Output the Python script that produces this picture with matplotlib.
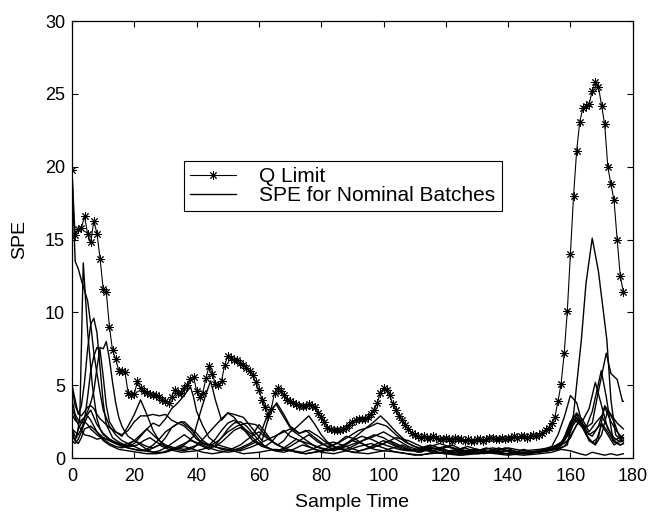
import numpy as np
import matplotlib
matplotlib.use("Agg")
import matplotlib.pyplot as plt

plt.rcParams['font.family'] = ['Liberation Sans', 'DejaVu Sans']

# === 1. Q limit (one value per sample, 0..177) ===
q_limit = [19.8, 15.3, 15.7, 15.8, 16.6, 15.4, 14.8, 16.3, 15.4, 13.7,
           11.6, 11.4, 9.0, 7.4, 6.8, 6.0, 6.0, 5.9, 4.5, 4.3,
           4.4, 5.3, 4.8, 4.6, 4.5, 4.4, 4.3, 4.3, 4.2, 4.0,
           3.9, 3.8, 4.2, 4.7, 4.5, 4.5, 4.8, 5.0, 5.4, 5.6,
           4.6, 4.2, 4.5, 5.5, 6.3, 5.8, 5.1, 5.0, 5.3, 6.4,
           7.0, 6.9, 6.7, 6.7, 6.5, 6.4, 6.2, 6.0, 5.7, 5.2,
           4.7, 4.0, 3.5, 2.9, 3.4, 4.5, 4.8, 4.6, 4.3, 4.0,
           3.9, 3.8, 3.7, 3.6, 3.6, 3.6, 3.7, 3.6, 3.5, 3.1,
           2.8, 2.5, 2.1, 2.0, 1.9, 1.9, 1.9, 2.0, 2.1, 2.3,
           2.5, 2.6, 2.7, 2.7, 2.7, 2.8, 3.0, 3.3, 3.8, 4.5,
           4.8, 4.7, 4.3, 3.7, 3.3, 2.9, 2.6, 2.3, 2.0, 1.7,
           1.6, 1.5, 1.4, 1.5, 1.4, 1.4, 1.5, 1.4, 1.3, 1.3,
           1.4, 1.3, 1.2, 1.4, 1.3, 1.3, 1.2, 1.3, 1.2, 1.2,
           1.3, 1.3, 1.2, 1.3, 1.4, 1.4, 1.3, 1.3, 1.4, 1.3,
           1.4, 1.4, 1.5, 1.4, 1.5, 1.5, 1.4, 1.5, 1.6, 1.5,
           1.6, 1.7, 1.9, 2.1, 2.4, 2.8, 3.9, 5.1, 7.2, 10.1,
           14.0, 18.0, 21.1, 23.1, 24.0, 24.2, 24.3, 25.2, 25.8, 25.5,
           24.2, 22.9, 20.0, 18.8, 17.7, 15.0, 12.5, 11.4]
q_time = np.arange(len(q_limit))

spe1_t = [0, 1, 2, 3, 4, 5, 6, 7, 8, 9, 10, 12, 14, 16, 18, 20, 22, 24, 26, 28, 31, 35, 40, 45, 50, 55, 60, 65, 70,
          75, 80, 85, 90, 95, 100, 105, 110, 115, 120, 125, 130, 135, 140, 145, 150, 154, 157, 160, 163, 165, 167,
          169, 171, 173, 175, 177]
spe1_v = [19.5, 13.5, 13.0, 12.2, 11.5, 10.8, 9.2, 7.2, 5.8, 4.5, 3.3, 2.2, 1.6, 1.2, 1.0, 0.8, 0.6, 0.5, 0.7, 0.9,
          0.6, 0.4, 0.5, 0.8, 0.6, 0.3, 0.4, 0.6, 0.5, 0.3, 0.5, 0.7, 0.4, 0.3, 0.5, 0.4, 0.2, 0.3, 0.4, 0.2, 0.3,
          0.4, 0.3, 0.2, 0.3, 0.4, 0.6, 0.5, 0.3, 0.2, 0.4, 0.3, 0.2, 0.3, 0.2, 0.3]

spe2_t = [0, 1, 1.5, 2.5, 3.6, 5, 6.5, 8, 9, 10, 12, 14, 16, 18, 20, 22, 24, 26, 28, 30, 32, 34, 36, 38, 39, 40, 42,
          44, 47, 50, 54, 58, 62, 66, 70, 74, 78, 82, 86, 90, 94, 97, 99, 101, 104, 108, 112, 116, 120, 125, 130,
          135, 140, 145, 150, 154, 157, 160, 162, 164, 166, 168, 170, 172, 174, 176, 177]
spe2_v = [2.0, 1.5, 1.4, 2.8, 13.4, 8.7, 5.0, 2.7, 2.0, 1.6, 1.3, 1.1, 0.9, 0.8, 1.0, 1.5, 2.0, 2.4, 2.2, 2.7, 3.4,
          3.8, 4.3, 4.9, 4.2, 3.2, 2.2, 1.4, 0.9, 0.7, 0.5, 0.8, 1.2, 1.6, 2.0, 1.4, 0.8, 0.5, 0.7, 1.3, 2.0, 2.5,
          2.9, 2.5, 1.8, 1.0, 0.6, 0.4, 0.3, 0.5, 0.6, 0.4, 0.5, 0.3, 0.4, 0.6, 0.9, 1.8, 3.0, 2.3, 1.2, 0.9, 1.6,
          3.3, 2.5, 1.3, 1.1]

spe3_t = [0, 1, 2, 3, 4, 5, 6, 7, 8, 9, 10, 11, 13, 15, 17, 19, 21, 23, 25, 27, 30, 33, 36, 39, 41, 43, 44.5, 46,
          48, 50, 52, 55, 58, 61, 64, 67, 70, 73, 76, 80, 84, 88, 92, 96, 100, 104, 108, 112, 116, 120, 125, 130,
          135, 140, 145, 150, 154, 156, 158, 160, 162, 164, 166, 168, 170, 172, 174, 176, 177]
spe3_v = [5.0, 4.0, 3.0, 3.6, 5.2, 7.5, 9.2, 9.6, 8.6, 6.2, 3.8, 2.3, 1.4, 1.1, 0.9, 0.8, 0.9, 1.2, 1.4, 1.1, 0.8,
          0.6, 0.9, 1.5, 3.0, 4.4, 5.3, 4.0, 2.6, 3.1, 2.8, 2.0, 1.2, 0.8, 0.6, 0.5, 0.8, 1.2, 1.0, 0.7, 0.5, 0.8,
          1.1, 1.4, 1.8, 1.3, 0.8, 0.5, 0.7, 0.5, 0.3, 0.5, 0.7, 0.5, 0.4, 0.5, 0.8, 1.6, 2.8, 4.3, 3.8, 2.2, 1.2,
          1.0, 2.3, 1.6, 0.9, 1.2, 1.4]

spe4_t = [0, 1, 2, 3, 4, 5, 6, 7, 8, 9, 10, 11, 12, 13, 14, 15, 16, 17, 18, 20, 22, 24, 26, 28, 30, 32, 35, 38, 41,
          44, 47, 50, 53, 56, 59, 62, 65, 68, 71, 74, 77, 80, 84, 88, 92, 96, 100, 104, 108, 112, 116, 120, 125,
          130, 135, 140, 145, 150, 153, 156, 159, 161, 163, 165, 167, 169, 171.5, 173, 175, 176.7, 177]
spe4_v = [3.0, 2.6, 2.4, 2.6, 2.8, 3.2, 3.8, 4.6, 6.2, 7.6, 7.5, 8.0, 6.8, 5.2, 3.8, 2.8, 2.2, 1.8, 1.5, 1.2, 1.0,
          0.8, 0.7, 0.9, 1.4, 2.1, 2.5, 2.0, 1.2, 0.8, 1.2, 1.8, 2.2, 2.4, 2.3, 1.6, 1.0, 0.7, 0.5, 0.4, 0.6, 0.9,
          1.1, 0.8, 0.5, 0.7, 1.0, 1.4, 1.2, 0.8, 0.5, 0.3, 0.4, 0.6, 0.4, 0.3, 0.4, 0.4, 0.5, 0.7, 1.2, 1.9, 2.6,
          2.1, 2.4, 4.6, 7.2, 5.8, 5.4, 3.9, 3.9]

spe5_t = [0, 1, 2, 3, 4, 5, 6, 7, 8, 9, 10, 11, 12, 14, 16, 18, 20, 22, 24, 26, 28, 30, 33, 36, 39, 42, 45, 48, 51,
          54, 57, 60, 63, 65.5, 68, 70, 73, 75, 78, 81, 84, 87, 90, 93, 96, 99, 102, 105, 108, 111, 115, 120, 125,
          130, 135, 140, 145, 150, 153, 156, 158, 160, 162, 164, 165, 167, 169.9, 171.5, 173.7, 175, 176.4, 177]
spe5_v = [2.0, 1.8, 1.6, 2.0, 2.6, 4.2, 6.0, 7.0, 7.6, 7.4, 5.6, 3.6, 2.5, 1.8, 1.5, 2.2, 3.0, 4.0, 3.0, 1.9, 1.2,
          0.9, 0.7, 0.6, 0.8, 1.0, 0.9, 0.6, 0.5, 0.7, 1.0, 1.4, 3.1, 3.7, 2.8, 2.1, 1.7, 1.9, 1.4, 0.9, 0.6, 0.8,
          1.2, 1.0, 0.7, 0.9, 1.2, 0.9, 0.6, 0.4, 0.6, 0.8, 0.5, 0.3, 0.5, 0.7, 0.5, 0.6, 0.7, 0.9, 1.2, 2.0, 2.6,
          2.3, 2.1, 3.2, 6.0, 4.2, 1.2, 1.3, 1.5, 1.4]

spe6_t = [0, 1, 2, 3, 4, 5, 6, 7, 8, 9, 10, 12, 14, 16, 18, 20, 22, 24, 26, 28, 30, 32, 34, 36, 38, 40, 42, 44, 46,
          48, 50, 52, 54, 56, 58, 60, 62, 64, 66, 68, 70, 73, 76, 79, 82, 85, 88, 91, 94, 97, 100, 103, 106, 109,
          112, 115, 118, 121, 124, 127, 130, 134, 138, 142, 146, 150, 154, 157, 159, 161, 163, 165, 167, 169, 171,
          173, 175, 177]
spe6_v = [4.8, 3.6, 3.1, 2.9, 3.2, 3.5, 3.6, 3.4, 3.0, 2.7, 2.5, 2.1, 1.8, 1.6, 1.9, 2.5, 2.9, 2.9, 3.0, 2.9, 3.0,
          2.6, 2.4, 2.5, 2.1, 1.7, 1.2, 0.9, 0.8, 1.1, 1.5, 1.9, 2.1, 1.8, 1.4, 1.0, 0.8, 1.1, 1.6, 1.9, 1.5, 1.2,
          1.6, 1.1, 0.8, 1.0, 1.5, 1.3, 0.9, 0.6, 0.5, 0.7, 0.9, 0.6, 0.4, 0.7, 0.6, 0.8, 0.5, 0.3, 0.5, 0.4, 0.6,
          0.4, 0.3, 0.5, 0.7, 1.1, 1.6, 2.7, 2.3, 1.8, 1.5, 2.2, 3.5, 2.5, 1.8, 1.3]

spe7_t = [0, 1, 2, 3, 4, 5, 6, 7, 8, 10, 12, 14, 16, 18, 20, 22, 24, 26, 28, 30, 32, 34, 36, 38, 40, 42, 44, 46, 48,
          50, 52, 54, 56, 58, 60, 62, 64, 66, 68, 70, 72, 74, 76, 78, 80, 82, 85, 88, 91, 94, 97, 100, 103, 106,
          109, 112, 115, 118, 121, 124, 127, 130, 133, 136, 139, 142, 145, 148, 151, 154, 157, 160, 162, 164, 166,
          168, 170, 172, 174, 176, 177]
spe7_v = [1.8, 1.2, 2.0, 2.4, 2.8, 3.0, 3.3, 2.8, 2.3, 1.7, 1.3, 1.0, 0.8, 0.7, 0.6, 0.5, 0.6, 0.9, 1.3, 1.8, 2.1,
          2.4, 2.2, 1.8, 1.3, 1.0, 0.9, 1.3, 1.9, 2.4, 2.6, 2.3, 1.9, 1.6, 2.3, 1.8, 1.2, 0.9, 1.2, 1.8, 2.1, 2.5,
          2.9, 2.3, 1.6, 1.1, 0.7, 0.5, 0.4, 0.6, 0.9, 1.2, 0.9, 0.6, 0.5, 0.7, 0.9, 0.7, 0.5, 0.6, 0.8, 0.6, 0.4,
          0.5, 0.7, 0.5, 0.3, 0.4, 0.5, 0.6, 0.9, 2.5, 3.1, 2.6, 1.8, 2.4, 2.9, 2.1, 1.2, 0.9, 1.0]

spe8_t = [0, 1, 2, 3, 4, 6, 8, 10, 12, 14, 16, 18, 20, 23, 26, 29, 32, 35, 38, 41, 44, 47, 50, 53, 56, 59, 62, 65,
          68, 71, 74, 77, 80, 84, 88, 92, 96, 100, 104, 108, 112, 116, 120, 124, 128, 132, 136, 140, 144, 148, 152,
          156, 159, 161, 163.5, 165, 167, 169, 171.7, 173, 174.5, 176, 177]
spe8_v = [3.5, 2.8, 2.3, 1.9, 1.6, 1.5, 1.3, 1.4, 1.2, 1.0, 0.9, 0.7, 0.6, 0.5, 0.4, 0.4, 0.6, 0.9, 1.2, 1.0, 0.7,
          0.5, 0.4, 0.5, 0.8, 1.1, 0.8, 0.5, 0.4, 0.6, 0.9, 0.7, 0.4, 0.3, 0.5, 0.8, 1.0, 0.7, 0.4, 0.3, 0.2, 0.4,
          0.3, 0.2, 0.3, 0.4, 0.3, 0.2, 0.3, 0.4, 0.5, 0.6, 0.9, 3.0, 8.1, 12.0, 15.1, 12.8, 8.1, 4.0, 1.6, 1.3, 1.6]

spe9_t = [0, 1, 2, 3, 4, 5, 6, 7, 8, 10, 12, 14, 16, 18, 20, 22, 24, 26, 28, 30, 32, 34, 36, 38, 40, 42, 44, 46, 48,
          50, 52, 54, 56, 58, 60, 62, 64, 66, 68, 70, 72, 74, 76, 78, 80, 83, 86, 89, 92, 95, 98, 101, 104, 107,
          110, 113, 116, 119, 122, 125, 128, 131, 134, 137, 140, 143, 146, 149, 152, 155, 158, 160, 162, 164, 166,
          168, 170, 172, 174, 176, 177]
spe9_v = [1.2, 1.0, 1.3, 1.8, 2.4, 2.9, 2.6, 2.2, 1.8, 1.4, 1.2, 1.0, 0.9, 1.0, 1.2, 0.9, 0.6, 0.4, 0.5, 0.7, 1.0,
          1.3, 1.6, 1.3, 1.0, 0.8, 0.6, 0.9, 1.4, 2.0, 2.4, 2.5, 2.2, 1.7, 1.2, 0.8, 0.6, 0.5, 0.7, 1.0, 1.3, 1.1,
          0.8, 0.6, 0.5, 0.8, 1.1, 1.5, 1.9, 2.1, 2.4, 2.2, 1.6, 1.1, 0.8, 0.6, 0.5, 0.7, 0.9, 0.6, 0.4, 0.3, 0.5,
          0.7, 0.5, 0.4, 0.3, 0.4, 0.5, 0.6, 0.8, 1.4, 2.3, 2.6, 3.4, 5.2, 3.6, 2.0, 1.4, 1.1, 1.2]

spe10_t = [0, 1, 2, 3, 4, 5, 6, 8, 10, 12, 14, 16, 18, 20, 22, 24, 26, 28, 30, 33, 36, 39, 42, 45, 48, 50, 52, 55,
           58, 61, 63.5, 65.7, 68, 70, 73, 76, 79, 82, 85, 88, 91, 94, 97, 100, 103, 106, 109, 112, 115, 118, 121,
           124, 127, 130, 133, 136, 139, 142, 145, 148, 151, 154, 157, 159, 161, 163, 165, 167, 169, 171, 173, 175,
           177]
spe10_v = [4.0, 3.0, 2.6, 2.4, 2.5, 2.3, 2.0, 1.6, 1.3, 1.0, 0.8, 0.7, 0.9, 1.2, 1.6, 2.0, 1.6, 1.2, 0.8, 0.6, 0.5,
           0.7, 1.3, 2.0, 2.7, 3.1, 3.0, 2.8, 2.0, 1.2, 3.1, 3.8, 3.0, 2.2, 1.7, 1.9, 1.5, 1.0, 0.7, 0.6, 0.9, 1.3,
           1.6, 1.4, 1.0, 0.7, 0.5, 0.6, 0.8, 1.0, 0.8, 0.6, 0.4, 0.5, 0.7, 0.5, 0.3, 0.4, 0.6, 0.4, 0.5, 0.6, 1.0,
           1.8, 2.9, 2.5, 1.6, 1.1, 1.4, 3.6, 3.0, 2.4, 2.0]

spe11_t = [0, 1, 2, 3, 4, 6, 8, 10, 12, 15, 18, 21, 24, 27, 30, 33, 36, 39, 42, 45, 48, 51, 54, 57, 60, 63, 66, 69,
           72, 75, 78, 81, 84, 87, 90, 93, 96, 99, 102, 105, 108, 111, 114, 117, 120, 123, 126, 129, 132, 135, 138,
           141, 144, 147, 150, 153, 156, 158, 160, 162, 164, 166, 168, 170, 172, 174, 176, 177]
spe11_v = [1.5, 1.2, 1.0, 1.4, 2.0, 2.2, 1.8, 1.2, 0.9, 0.6, 0.5, 0.4, 0.3, 0.3, 0.4, 0.6, 0.8, 0.6, 0.4, 0.3, 0.4,
           0.6, 0.9, 1.4, 1.8, 1.3, 0.9, 0.6, 0.4, 0.3, 0.4, 0.5, 0.7, 0.9, 1.2, 1.5, 1.3, 1.0, 0.8, 0.6, 0.5, 0.6,
           0.8, 0.6, 0.4, 0.5, 0.7, 0.5, 0.3, 0.4, 0.6, 0.4, 0.3, 0.4, 0.5, 0.6, 0.8, 1.2, 2.2, 2.8, 2.3, 1.6, 1.9,
           2.4, 1.8, 1.1, 0.9, 1.0]

spe_batches = [(spe1_t, spe1_v), (spe2_t, spe2_v), (spe3_t, spe3_v), (spe4_t, spe4_v),
               (spe5_t, spe5_v), (spe6_t, spe6_v), (spe7_t, spe7_v), (spe8_t, spe8_v),
               (spe9_t, spe9_v), (spe10_t, spe10_v), (spe11_t, spe11_v)]

# === 3. Plot ===
fig = plt.figure(figsize=(6.55, 5.13), dpi=100)
ax = fig.add_axes([0.110, 0.107, 0.856, 0.852])

q_line, = ax.plot(q_time, q_limit, color='black', lw=0.8, marker=(8, 2, 0),
                  markersize=6, markeredgewidth=0.7, label='Q Limit')
spe_line = None
for t, v in spe_batches:
    spe_line, = ax.plot(t, v, color='black', lw=1.0)
spe_line.set_label('SPE for Nominal Batches')

ax.set_xlim(0, 180)
ax.set_ylim(0, 30)
ax.set_xticks(np.arange(0, 181, 20))
ax.set_yticks(np.arange(0, 31, 5))
ax.tick_params(direction='in', top=True, right=True, length=4, width=0.8, labelsize=13)
ax.tick_params(axis='x', pad=7)
ax.tick_params(axis='y', pad=5)
for s in ax.spines.values():
    s.set_linewidth(0.9)

ax.set_xlabel('Sample Time', fontsize=14)
ax.set_ylabel('SPE', fontsize=14)
ax.xaxis.set_label_coords(0.5, -0.083)
ax.yaxis.set_label_coords(-0.078, 0.5)

leg = ax.legend(handles=[q_line, spe_line], loc='upper left', bbox_to_anchor=(0.2, 0.68),
                fontsize=15, frameon=True, fancybox=False, framealpha=1, edgecolor='black',
                handlelength=2.2, handletextpad=1.1, labelspacing=0.0, borderpad=0.3,
                borderaxespad=0, numpoints=1)
leg.get_frame().set_linewidth(0.8)

fig.savefig('out.png', dpi=100)
